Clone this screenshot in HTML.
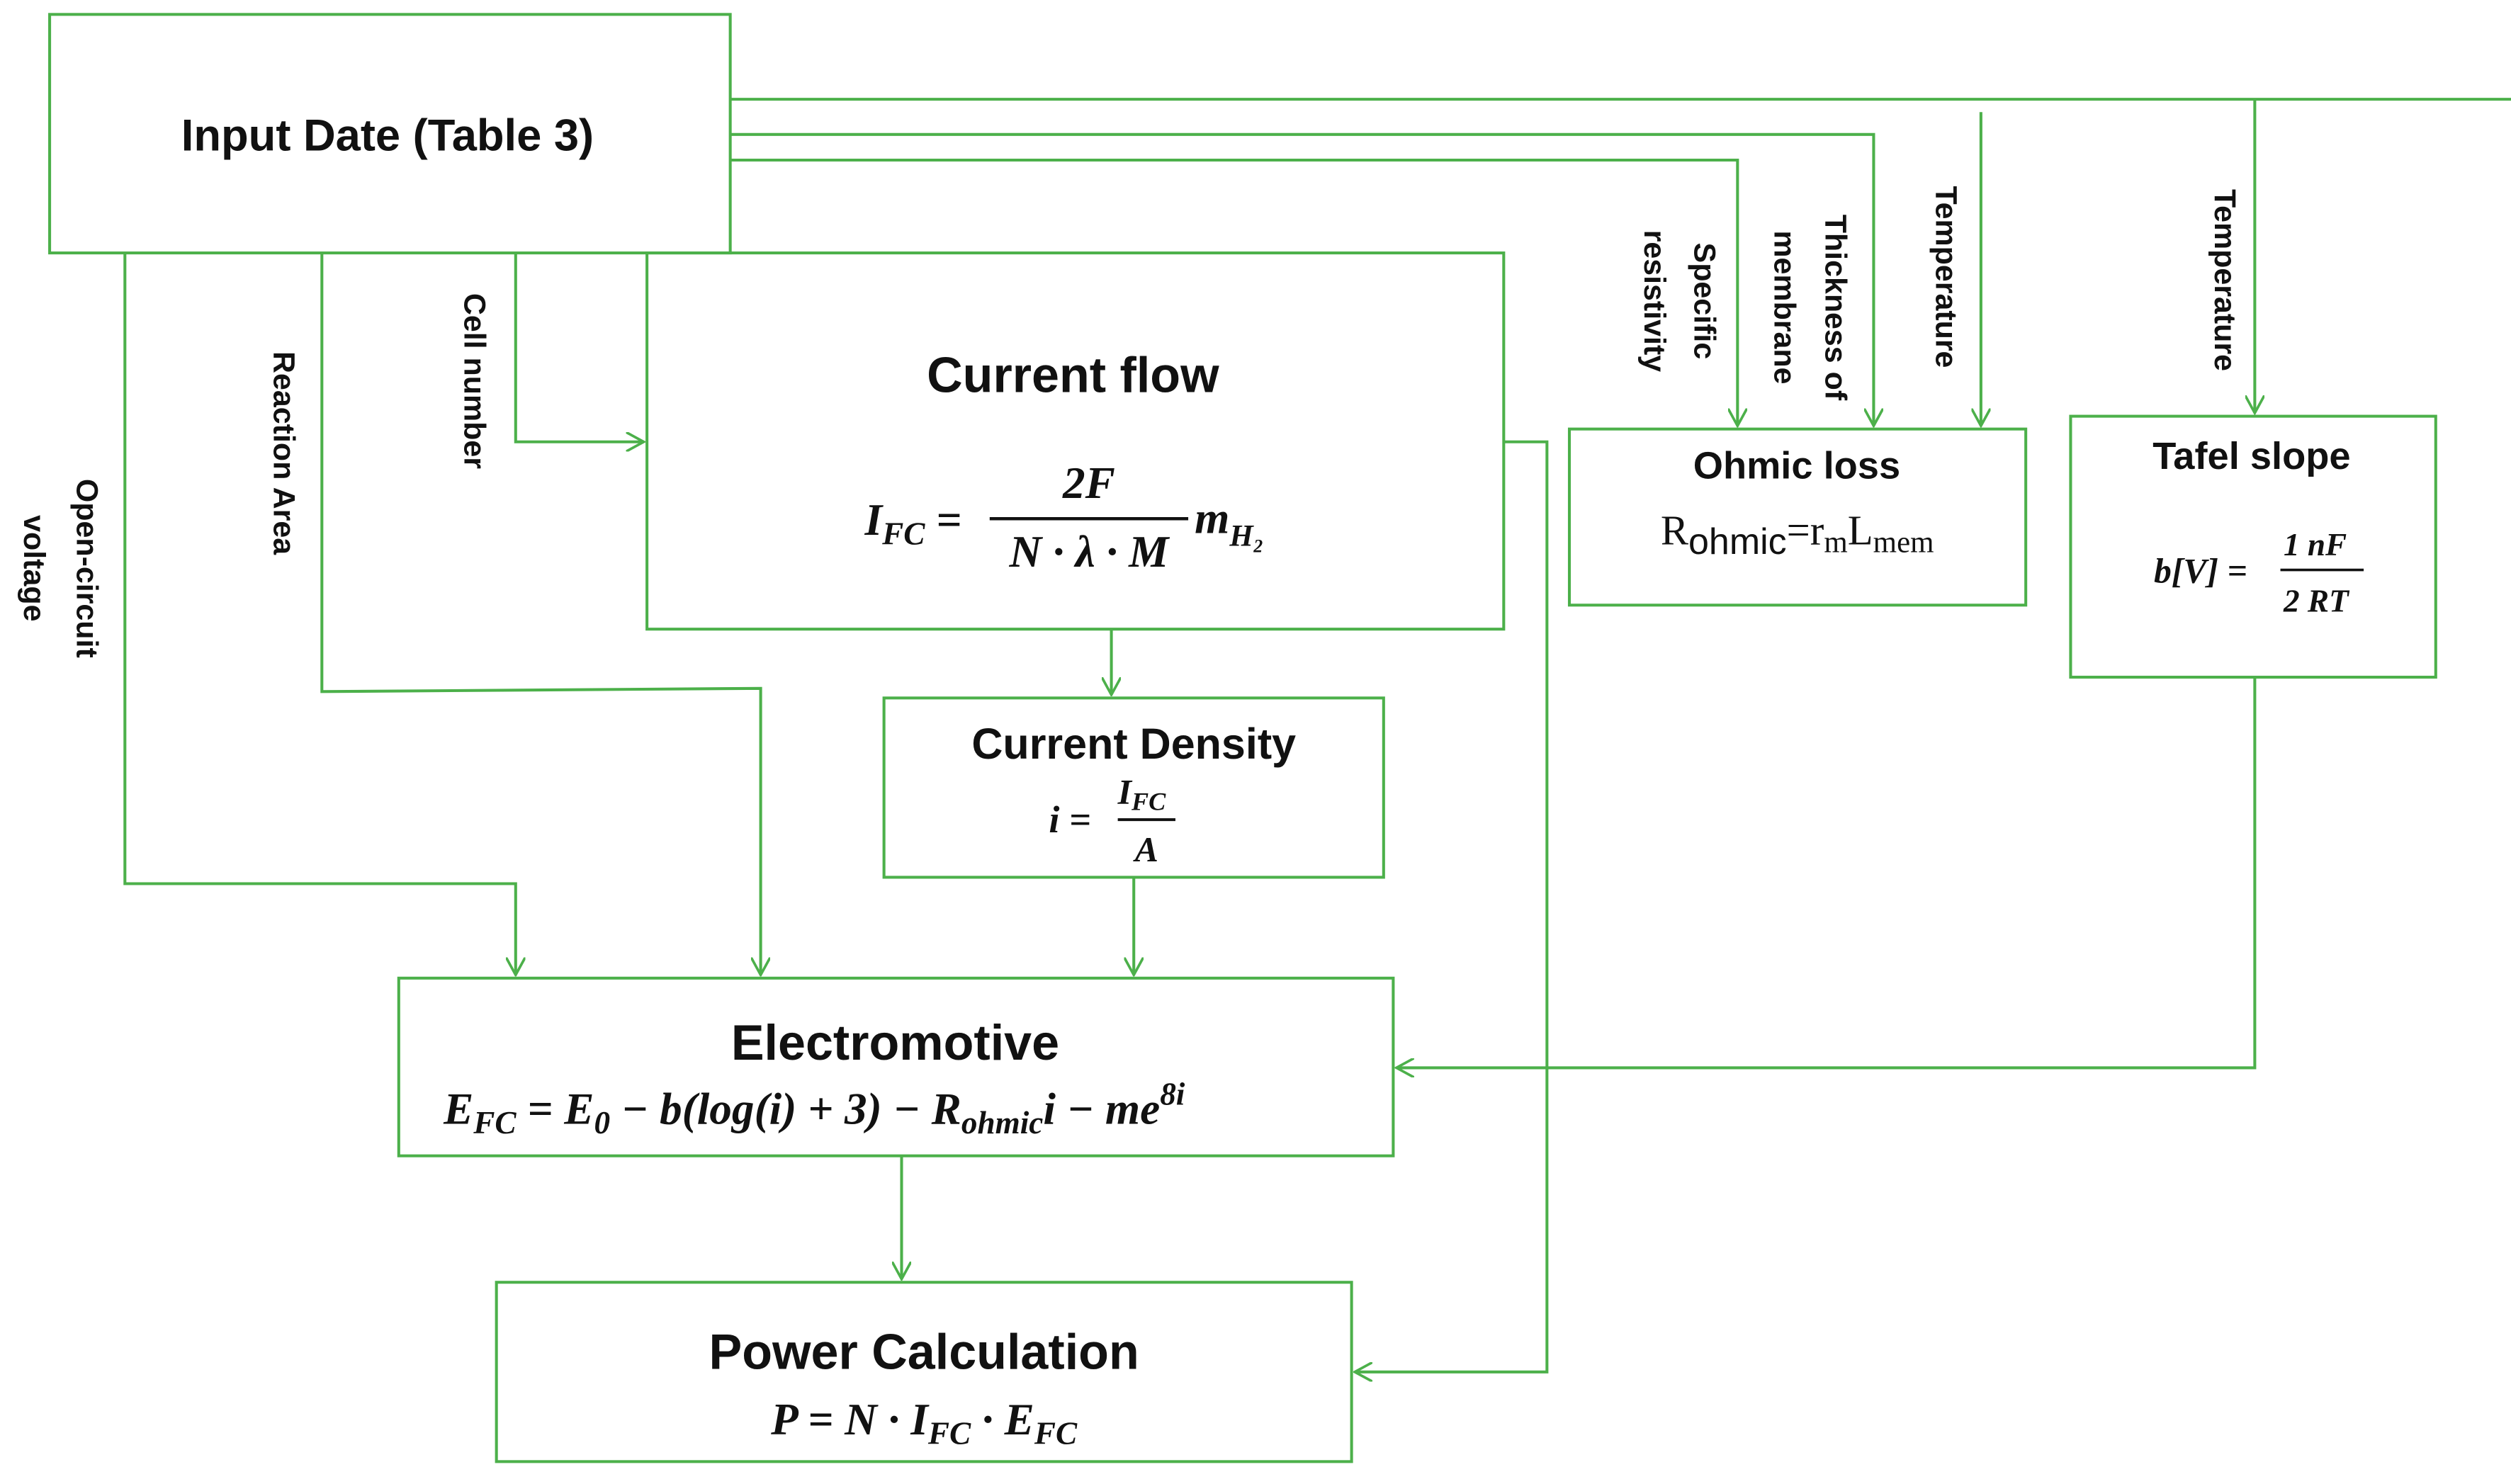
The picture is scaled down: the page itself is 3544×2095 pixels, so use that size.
<!DOCTYPE html>
<html><head><meta charset="utf-8"><style>
html,body{margin:0;padding:0;background:#fff;}
svg{display:block;}
.t{font-family:"Liberation Sans",sans-serif;font-weight:bold;fill:#111;}
.m{font-family:"Liberation Serif",serif;font-weight:bold;font-style:italic;fill:#111;}
.l{font-family:"Liberation Sans",sans-serif;font-weight:bold;fill:#111;font-size:19px;}
</style></head><body>
<svg width="3544" height="2095" viewBox="0 0 1568 927" preserveAspectRatio="none" xmlns="http://www.w3.org/2000/svg">
<defs>
<marker id="a" viewBox="0 0 12 12" refX="11" refY="6" markerWidth="12" markerHeight="12" markerUnits="userSpaceOnUse" orient="auto">
<path d="M0,0 L11,6 L0,12" fill="none" stroke="#4cb04a" stroke-width="1.6"/>
</marker>
</defs>
<g fill="none" stroke="#4cb04a" stroke-width="1.8">
<rect x="31" y="9" width="425" height="149"/>
<rect x="404" y="158" width="535" height="235"/>
<rect x="552" y="436" width="312" height="112"/>
<rect x="249" y="611" width="621" height="111"/>
<rect x="310" y="801" width="534" height="112"/>
<rect x="980" y="268" width="285" height="110"/>
<rect x="1293" y="260" width="228" height="163"/>
</g>
<g fill="none" stroke="#4cb04a" stroke-width="1.8">
<path d="M456,62 H1568"/>
<path d="M1408,62 V258" marker-end="url(#a)"/>
<path d="M456,84 H1170 V266" marker-end="url(#a)"/>
<path d="M456,100 H1085 V266" marker-end="url(#a)"/>
<path d="M1237,70 V266" marker-end="url(#a)"/>
<path d="M78,158 V552 H322 V609" marker-end="url(#a)"/>
<path d="M201,158 V432 L475,430 V609" marker-end="url(#a)"/>
<path d="M322,158 V276 H402" marker-end="url(#a)"/>
<path d="M694,393 V434" marker-end="url(#a)"/>
<path d="M708,548 V609" marker-end="url(#a)"/>
<path d="M939,276 H966 V857 H846" marker-end="url(#a)"/>
<path d="M1408,423 V667 H872" marker-end="url(#a)"/>
<path d="M563,722 V799" marker-end="url(#a)"/>
</g>
<text class="t" x="242" y="94" font-size="28" text-anchor="middle">Input Date (Table 3)</text>
<text class="t" x="670" y="245" font-size="31" text-anchor="middle">Current flow</text>
<text class="m" x="540" y="334" font-size="28">I<tspan font-size="20" dy="6">FC</tspan><tspan dy="-6"> =</tspan></text>
<line x1="618" y1="324" x2="742" y2="324" stroke="#111" stroke-width="2"/>
<text class="m" x="680" y="311" font-size="28" text-anchor="middle">2F</text>
<text class="m" x="680" y="354" font-size="28" text-anchor="middle">N · λ · M</text>
<text class="m" x="746" y="333" font-size="28">m<tspan font-size="19" dy="8">H₂</tspan></text>
<text class="t" x="708" y="474" font-size="27" text-anchor="middle">Current Density</text>
<text class="m" x="655" y="520" font-size="24">i =</text>
<line x1="698" y1="512" x2="734" y2="512" stroke="#111" stroke-width="1.8"/>
<text class="m" x="698" y="502" font-size="22">I<tspan font-size="16" dy="4">FC</tspan></text>
<text class="m" x="716" y="538" font-size="22" text-anchor="middle">A</text>
<text class="t" x="559" y="662" font-size="31" text-anchor="middle">Electromotive</text>
<text class="m" x="277" y="702" font-size="28">E<tspan font-size="20" dy="6">FC</tspan><tspan dy="-6"> = E</tspan><tspan font-size="20" dy="6">0</tspan><tspan dy="-6"> − b(log(i) + 3) − R</tspan><tspan font-size="20" dy="6">ohmic</tspan><tspan dy="-6">i − me</tspan><tspan font-size="20" dy="-12">8i</tspan></text>
<text class="t" x="577" y="855" font-size="31" text-anchor="middle">Power Calculation</text>
<text class="m" x="577" y="896" font-size="28" text-anchor="middle">P = N · I<tspan font-size="20" dy="6">FC</tspan><tspan dy="-6"> · E</tspan><tspan font-size="20" dy="6">FC</tspan></text>
<text class="t" x="1122" y="299" font-size="24" text-anchor="middle">Ohmic loss</text>
<text x="1037" y="340" font-family="Liberation Serif,serif" font-size="26" fill="#111">R<tspan font-family="Liberation Sans,sans-serif" font-size="23" dy="6">ohmic</tspan><tspan dy="-6">=r</tspan><tspan font-size="19" dy="5">m</tspan><tspan dy="-5">L</tspan><tspan font-size="19" dy="5">mem</tspan></text>
<text class="t" x="1406" y="293" font-size="24" text-anchor="middle">Tafel slope</text>
<text class="m" x="1345" y="364" font-size="22">b[V] =</text>
<line x1="1424" y1="356" x2="1476" y2="356" stroke="#111" stroke-width="1.6"/>
<text class="m" x="1426" y="347" font-size="20">1 nF</text>
<text class="m" x="1426" y="382" font-size="20">2 RT</text>
<g class="l">
<text transform="translate(48,355) rotate(90)" text-anchor="middle">Open-circuit</text>
<text transform="translate(15,355) rotate(90)" text-anchor="middle">voltage</text>
<text transform="translate(171,283) rotate(90)" text-anchor="middle">Reaction Area</text>
<text transform="translate(290,238) rotate(90)" text-anchor="middle">Cell number</text>
<text transform="translate(1058,188) rotate(90)" text-anchor="middle">Specific</text>
<text transform="translate(1027,188) rotate(90)" text-anchor="middle">resistivity</text>
<text transform="translate(1140,192) rotate(90)" text-anchor="middle">Thickness of</text>
<text transform="translate(1108,192) rotate(90)" text-anchor="middle">membrane</text>
<text transform="translate(1209,173) rotate(90)" text-anchor="middle">Temperature</text>
<text transform="translate(1383,175) rotate(90)" text-anchor="middle">Temperature</text>
</g>
</svg>
</body></html>
